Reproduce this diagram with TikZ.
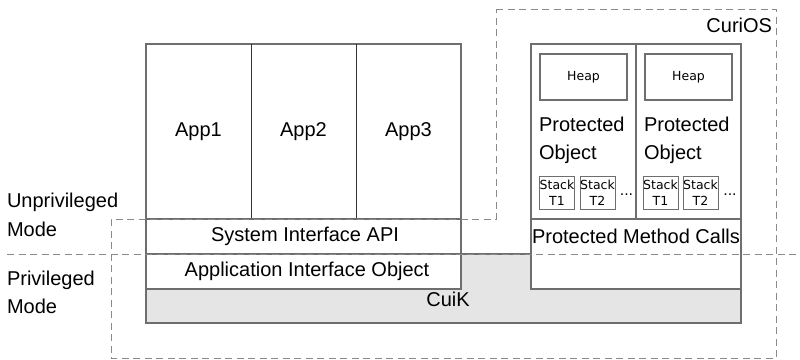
\documentclass[tikz,border=0pt]{standalone}
\usepackage{fontspec}
\setmainfont{Liberation Sans}
\newfontfamily\smallfam{DejaVu Sans}
\definecolor{kernelfill}{HTML}{E5E5E5}
\definecolor{boxline}{HTML}{6E6E6E}
\definecolor{dashline}{HTML}{8A8A8A}
\begin{document}
\begin{tikzpicture}[x=1pt,y=-1pt,
  every node/.style={inner sep=0pt,outer sep=0pt},
  bigtext/.style={font=\fontsize{20}{24}\selectfont},
  smalltext/.style={font=\smallfam\fontsize{12.5}{16.5}\selectfont},
  dotstext/.style={font=\smallfam\fontsize{14}{16}\selectfont},
  cell/.style={draw=boxline,line width=1.1pt,fill=white,rectangle},
  divider/.style={draw=black!80,line width=1pt},
  modeline/.style={draw=dashline,line width=1pt,dash pattern=on 7pt off 4.5pt}]
\useasboundingbox (0,0) rectangle (800,359);

% kernel layer (CuiK), partly covered by the boxes above it
\node[cell,fill=kernelfill,minimum width=595pt,minimum height=69pt] (cuik) at (443.5,288.5) {};
\node[bigtext] (cuiklbl) at (448,299) {CuiK};

% applications
\node[cell,minimum width=315pt,minimum height=175pt] (apps) at (303.5,131.5) {};
\node[bigtext] (app1) at (198.5,131.5) {App1};
\node[bigtext] (app2) at (303.5,131.5) {App2};
\node[bigtext] (app3) at (408.5,131.5) {App3};
\coordinate (d1top) at (251,44);
\coordinate (d1bot) at (251,219);
\coordinate (d2top) at (356,44);
\coordinate (d2bot) at (356,219);
\draw[divider] (d1top) -- (d1bot);
\draw[divider] (d2top) -- (d2bot);

\node[cell,minimum width=315pt,minimum height=35pt] (sysapi) at (303.5,236.5) {};
\node[bigtext] (sysapilbl) at (305,236.5) {System Interface API};
\node[cell,minimum width=315pt,minimum height=35pt] (aio) at (303.5,271.5) {};
\node[bigtext] (aiolbl) at (307,271.5) {Application Interface Object};

% protected objects
\node[cell,minimum width=210pt,minimum height=245pt] (prot) at (636,166.5) {};
\coordinate (pdtop) at (636,44);
\coordinate (pdbot) at (636,219);
\coordinate (pml) at (531,219);
\coordinate (pmr) at (741,219);
\draw[boxline,line width=1.1pt] (pdtop) -- (pdbot);
\draw[boxline,line width=1.1pt] (pml) -- (pmr);
\node[bigtext] (pmc) at (636,236.5) {Protected Method Calls};

\node[cell,minimum width=87pt,minimum height=46pt,smalltext] (heap1) at (583.5,77) {Heap};
\node[cell,minimum width=87pt,minimum height=46pt,smalltext] (heap2) at (688.5,77) {Heap};

\node[bigtext,anchor=base west] (po1a) at (539,131) {Protected};
\node[bigtext,anchor=base west] (po1b) at (539,159) {Object};
\node[bigtext,anchor=base west] (po2a) at (644,131) {Protected};
\node[bigtext,anchor=base west] (po2b) at (644,159) {Object};

\node[cell,line width=1pt,minimum width=34pt,minimum height=33pt,smalltext,align=center] (s11) at (557,192.5) {Stack\\T1};
\node[cell,line width=1pt,minimum width=35pt,minimum height=33pt,smalltext,align=center] (s12) at (597.5,192.5) {Stack\\T2};
\node[dotstext,anchor=base] (dots1) at (626.5,195) {...};
\node[cell,line width=1pt,minimum width=35pt,minimum height=33pt,smalltext,align=center] (s21) at (660.5,192.5) {Stack\\T1};
\node[cell,line width=1pt,minimum width=35pt,minimum height=33pt,smalltext,align=center] (s22) at (700.5,192.5) {Stack\\T2};
\node[dotstext,anchor=base] (dots2) at (730,195) {...};

% CuriOS boundary
\coordinate (c1) at (496,9);
\coordinate (c2) at (776,9);
\coordinate (c3) at (776,358);
\coordinate (c4) at (111,358);
\coordinate (c5) at (111,219);
\coordinate (c6) at (496,219);
\draw[modeline] (c1) -- (c2) -- (c3) -- (c4) -- (c5) -- (c6) -- cycle;
\node[bigtext,anchor=base east] (curios) at (772,32) {CuriOS};

% privilege boundary
\coordinate (pl) at (7,254);
\coordinate (pr) at (800,254);
\draw[modeline] (pl) -- (pr);

\node[bigtext,anchor=base west] (unpriv) at (7,207) {Unprivileged};
\node[bigtext,anchor=base west] (unprivm) at (7,236) {Mode};
\node[bigtext,anchor=base west] (priv) at (7,285) {Privileged};
\node[bigtext,anchor=base west] (privm) at (7,313) {Mode};
\end{tikzpicture}
\end{document}
